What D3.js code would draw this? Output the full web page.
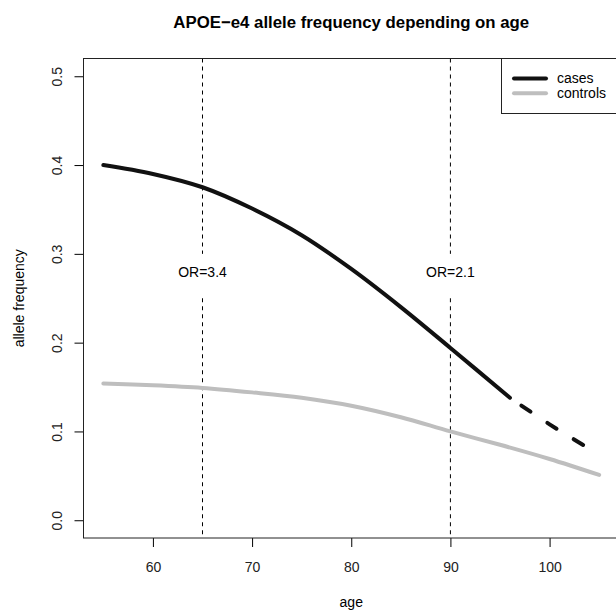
<!DOCTYPE html>
<html>
<head>
<meta charset="utf-8">
<script src="https://cdn.jsdelivr.net/npm/d3@7"></script>
<style>
  body { margin: 0; background: white; }
  svg { font-family: "Liberation Sans", Arial, sans-serif; }
</style>
</head>
<body>
<main></main>
<script>
// values
const ages = [55, 60, 65, 70, 75, 80, 85, 90, 96]
const casesFreq = [0.400, 0.390, 0.375, 0.351, 0.321, 0.283, 0.240, 0.194, 0.138]

// cases beyond the observed ages (dashed)
const extrapAges = [96, 100, 105]
const casesExtrap = [0.138, 0.108, 0.074]

const controlAges = [55, 60, 65, 70, 75, 80, 85, 90, 95, 100, 105]
const controlsFreq = [0.154, 0.152, 0.149, 0.144, 0.138, 0.129, 0.116, 0.100, 0.085, 0.069, 0.051]

const xTicks = [60, 70, 80, 90, 100]
const yTicks = [0, 0.1, 0.2, 0.3, 0.4, 0.5]

const orAges = [65, 90]
const orLabels = ["OR=3.4", "OR=2.1"]

const legendLabels = ["cases", "controls"]
const legendColors = ["#111111", "#bebebe"]

const svgWidth = 616
const svgHeight = 610

const plotLeft = 83.5
const plotRight = 619
const plotTop = 58.5
const plotBottom = 538

let svg = d3.select("main")
    .append("svg")
    .attr("width", svgWidth)
    .attr("height", svgHeight)
    .style("background-color", "white")

//scales (R style: range padded by 4%)
let xScale = d3.scaleLinear()
    .domain([53, 107])
    .range([plotLeft, plotRight])

let yScale = d3.scaleLinear()
    .domain([-0.02, 0.52])
    .range([plotBottom, plotTop])

//title
svg.append("text")
    .attr("x", (plotLeft + plotRight) / 2)
    .attr("y", 28)
    .attr("text-anchor", "middle")
    .style("font-weight", "bold")
    .style("font-size", "16.8px")
    .text("APOE\u2212e4 allele frequency depending on age")

//vertical dashed lines, broken around the OR labels
const gapTop = 0.30
const gapBottom = 0.25
orAges.forEach((a, i) => {
    svg.append("line")
        .attr("x1", xScale(a)).attr("x2", xScale(a))
        .attr("y1", yScale(0.52)).attr("y2", yScale(gapTop))
        .attr("stroke", "black")
        .attr("stroke-width", 1)
        .attr("stroke-dasharray", "4,4")
    svg.append("line")
        .attr("x1", xScale(a)).attr("x2", xScale(a))
        .attr("y1", yScale(gapBottom)).attr("y2", yScale(-0.02))
        .attr("stroke", "black")
        .attr("stroke-width", 1)
        .attr("stroke-dasharray", "4,4")
    svg.append("text")
        .attr("x", xScale(a))
        .attr("y", yScale(0.28))
        .attr("dy", "0.35em")
        .attr("text-anchor", "middle")
        .style("font-size", "14px")
        .text(orLabels[i])
})

//lines
let line = d3.line()
    .x((d) => xScale(d[0]))
    .y((d) => yScale(d[1]))
    .curve(d3.curveCatmullRom)

svg.append("path")
    .datum(controlAges.map((a, i) => [a, controlsFreq[i]]))
    .attr("d", line)
    .attr("fill", "none")
    .attr("stroke", legendColors[1])
    .attr("stroke-width", 4)
    .attr("stroke-linecap", "round")

svg.append("path")
    .datum(ages.map((a, i) => [a, casesFreq[i]]))
    .attr("d", line)
    .attr("fill", "none")
    .attr("stroke", legendColors[0])
    .attr("stroke-width", 4)
    .attr("stroke-linecap", "round")

svg.append("path")
    .datum(extrapAges.map((a, i) => [a, casesExtrap[i]]))
    .attr("d", line)
    .attr("fill", "none")
    .attr("stroke", legendColors[0])
    .attr("stroke-width", 4)
    .attr("stroke-linecap", "round")
    .attr("stroke-dasharray", "11,20")
    .attr("stroke-dashoffset", 17)

//axes
let xAxis = svg.append("g")
    .attr("transform", `translate(0, ${plotBottom})`)
    .call(d3.axisBottom(xScale).tickValues(xTicks).tickSize(9).tickPadding(15).tickSizeOuter(0))

xAxis.select(".domain").remove()
xAxis.selectAll("text")
    .attr("fill", "#222")
    .style("font-size", "14px")
    .style("font-family", "Liberation Sans, Arial, sans-serif")

let yAxis = svg.append("g")
    .attr("transform", `translate(${plotLeft}, 0)`)
    .call(d3.axisLeft(yScale).tickValues(yTicks).tickSize(9).tickFormat(d3.format(".1f")))

yAxis.select(".domain").remove()
yAxis.selectAll("text")
    .attr("x", null)
    .attr("dy", null)
    .attr("text-anchor", "middle")
    .attr("transform", "translate(-22, 0) rotate(-90)")
    .attr("fill", "#222")
    .style("font-size", "14px")
    .style("font-family", "Liberation Sans, Arial, sans-serif")

//plot box
svg.append("rect")
    .attr("x", plotLeft)
    .attr("y", plotTop)
    .attr("width", plotRight - plotLeft)
    .attr("height", plotBottom - plotTop)
    .attr("fill", "none")
    .attr("stroke", "#222")
    .attr("stroke-width", 1)

//axis titles
svg.append("text")
    .attr("x", (plotLeft + plotRight) / 2)
    .attr("y", 607)
    .attr("text-anchor", "middle")
    .style("font-size", "14px")
    .text("age")

svg.append("text")
    .attr("transform", `translate(24, ${(plotTop + plotBottom) / 2}) rotate(-90)`)
    .attr("text-anchor", "middle")
    .style("font-size", "14px")
    .text("allele frequency")

//legend
let legend = svg.append("g")

legend.append("rect")
    .attr("x", 501.5)
    .attr("y", plotTop)
    .attr("width", plotRight - 501.5)
    .attr("height", 55)
    .attr("fill", "white")
    .attr("stroke", "#222")
    .attr("stroke-width", 1)

legendLabels.forEach((l, i) => {
    let y = 78.5 + i * 14.7
    legend.append("line")
        .attr("x1", 514).attr("x2", 546)
        .attr("y1", y).attr("y2", y)
        .attr("stroke", legendColors[i])
        .attr("stroke-width", 4)
        .attr("stroke-linecap", "round")
    legend.append("text")
        .attr("x", 557)
        .attr("y", y)
        .attr("dy", "0.35em")
        .style("font-size", "14px")
        .text(l)
})
</script>
</body>
</html>
